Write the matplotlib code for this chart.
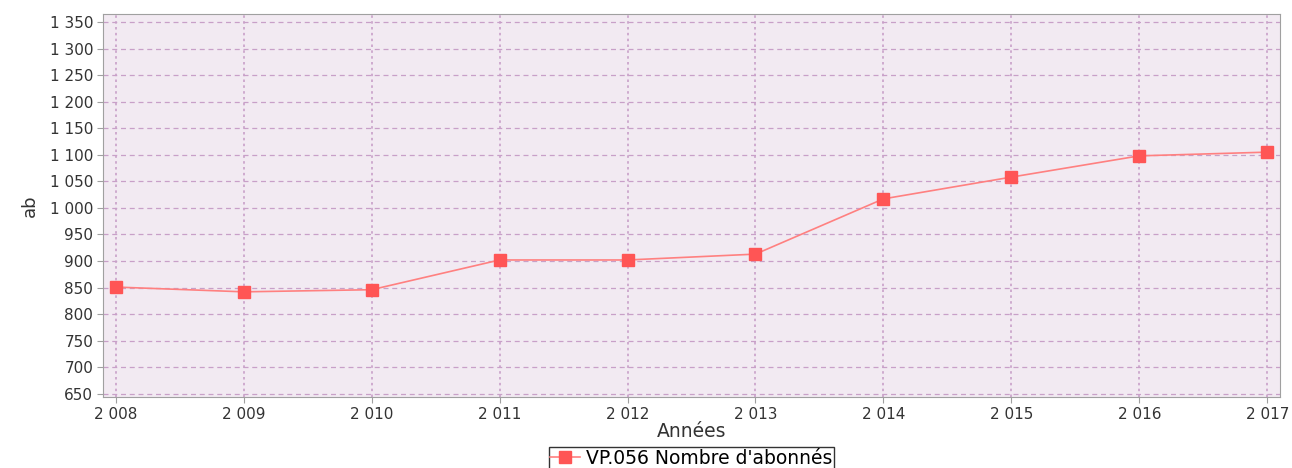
import matplotlib
matplotlib.use("Agg")
import matplotlib.pyplot as plt
from matplotlib.ticker import FuncFormatter, MultipleLocator

plt.rcParams["font.family"] = ["DejaVu Sans"]

years = [2008, 2009, 2010, 2011, 2012, 2013, 2014, 2015, 2016, 2017]
abonnes = [851, 842, 846, 902, 902, 913, 1017, 1058, 1098, 1105]
series_label = "VP.056 Nombre d'abonnés"


def spaced(v, pos):
    return f"{int(v):,}".replace(",", " ")


fig = plt.figure(figsize=(12.92, 4.68), dpi=100)
ax = fig.add_axes([0.0797, 0.1517, 0.911, 0.8183])
ax.set_facecolor("#f2eaf2")

ax.plot(years, abonnes, color="#ff8080", lw=1.2, marker="s", ms=8,
        mfc="#ff5555", mec="#ff5555", label=series_label, zorder=3)

ax.set_xlim(2007.9, 2017.1)
ax.set_ylim(644, 1365)
ax.xaxis.set_major_locator(MultipleLocator(1))
ax.yaxis.set_major_locator(MultipleLocator(50))
ax.xaxis.set_major_formatter(FuncFormatter(spaced))
ax.yaxis.set_major_formatter(FuncFormatter(spaced))

ax.grid(axis="y", color="#c8a0c8", ls=(0, (4, 3)), lw=0.9)
ax.grid(axis="x", color="#c8a0c8", ls=(0, (1.5, 2)), lw=1.2)

for s in ax.spines.values():
    s.set_color("#a0a0a0")
ax.tick_params(colors="#a0a0a0", labelcolor="#333333", labelsize=11,
               length=4, direction="out", pad=3)

ax.set_xlabel("Années", fontsize=13.5, color="#333333", labelpad=0)
ax.set_ylabel("ab", fontsize=13, color="#333333", labelpad=8)

leg = ax.legend(loc="upper center", bbox_to_anchor=(0.5, -0.13), frameon=True,
                fancybox=False, fontsize=13.5, handlelength=1.6,
                borderpad=0.1, handletextpad=0.3, borderaxespad=0)
leg.get_frame().set_edgecolor("black")
leg.get_frame().set_linewidth(1)

fig.savefig("out.png", dpi=100)
